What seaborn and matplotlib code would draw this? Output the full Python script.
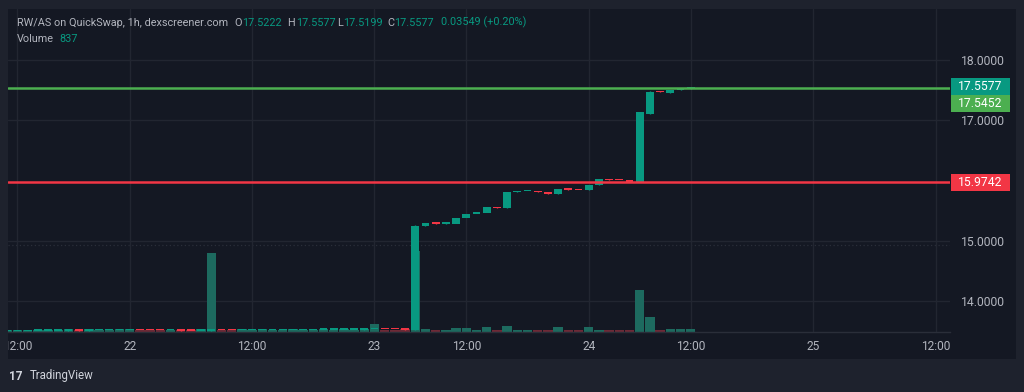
import matplotlib
matplotlib.use("Agg")
import matplotlib.pyplot as plt
import matplotlib.patches as mpatches
import matplotlib.transforms as mtransforms
import matplotlib.ticker as mticker
import pandas as pd
import seaborn as sns

# ---------------- data ----------------
bar_index = list(range(-1, 67))
opens = [13.499, 13.500, 13.501, 13.502, 13.503, 13.504, 13.505, 13.508, 13.506, 13.508,
         13.509, 13.510, 13.511, 13.513, 13.511, 13.509, 13.507, 13.508, 13.506, 13.504,
         13.506, 13.512, 13.510, 13.508, 13.509, 13.510, 13.512, 13.513, 13.514, 13.516,
         13.517, 13.518, 13.519, 13.520, 13.522, 13.523, 13.524, 13.528, 13.526, 13.524,
         13.522, 15.250, 15.290, 15.280, 15.275, 15.370, 15.440, 15.460, 15.560, 15.540,
         15.810, 15.825, 15.820, 15.810, 15.770, 15.860, 15.845, 15.835, 15.920, 16.030,
         16.010, 16.000, 15.980, 17.110, 17.480, 17.460, 17.500, 17.5222]
closes = [13.500, 13.501, 13.502, 13.503, 13.504, 13.505, 13.508, 13.506, 13.508, 13.509,
          13.510, 13.511, 13.513, 13.511, 13.509, 13.507, 13.508, 13.506, 13.504, 13.506,
          13.512, 13.510, 13.508, 13.509, 13.510, 13.512, 13.513, 13.514, 13.516, 13.517,
          13.518, 13.519, 13.520, 13.522, 13.523, 13.524, 13.528, 13.526, 13.524, 13.522,
          15.250, 15.290, 15.280, 15.285, 15.370, 15.440, 15.470, 15.560, 15.540, 15.810,
          15.825, 15.830, 15.810, 15.770, 15.860, 15.845, 15.835, 15.930, 16.030, 16.010,
          16.000, 15.980, 17.130, 17.470, 17.465, 17.500, 17.530, 17.5577]
highs = [13.500, 13.501, 13.502, 13.503, 13.504, 13.505, 13.508, 13.508, 13.508, 13.509,
         13.510, 13.511, 13.513, 13.513, 13.511, 13.509, 13.508, 13.508, 13.506, 13.506,
         13.512, 13.512, 13.510, 13.509, 13.510, 13.512, 13.513, 13.514, 13.516, 13.517,
         13.518, 13.519, 13.520, 13.522, 13.523, 13.524, 13.528, 13.528, 13.526, 13.524,
         15.260, 15.290, 15.290, 15.285, 15.370, 15.440, 15.470, 15.560, 15.560, 15.810,
         15.825, 15.830, 15.820, 15.810, 15.860, 15.860, 15.845, 15.930, 16.030, 16.030,
         16.010, 16.000, 17.130, 17.490, 17.480, 17.500, 17.530, 17.5577]
lows = [13.499, 13.500, 13.501, 13.502, 13.503, 13.504, 13.505, 13.506, 13.506, 13.508,
        13.509, 13.510, 13.511, 13.511, 13.509, 13.507, 13.507, 13.506, 13.504, 13.504,
        13.506, 13.510, 13.508, 13.508, 13.509, 13.510, 13.512, 13.513, 13.514, 13.516,
        13.517, 13.518, 13.519, 13.520, 13.522, 13.523, 13.524, 13.526, 13.524, 13.522,
        13.522, 15.250, 15.280, 15.275, 15.370, 15.440, 15.460, 15.560, 15.540, 15.540,
        15.810, 15.825, 15.810, 15.770, 15.770, 15.845, 15.835, 15.835, 15.920, 16.010,
        16.000, 15.980, 15.980, 17.110, 17.465, 17.460, 17.500, 17.5199]
volumes = [500, 430, 430, 430, 430, 430, 850, 430, 650, 430,
           430, 650, 850, 430, 430, 430, 430, 430, 430, 850,
           24400, 430, 430, 650, 430, 900, 430, 430, 850, 430,
           430, 650, 430, 850, 430, 650, 2300, 430, 430, 650,
           25000, 930, 400, 400, 1050, 1050, 400, 1360, 400, 1770,
           530, 400, 400, 400, 1360, 400, 400, 1460, 400, 400,
           400, 400, 12800, 4550, 400, 740, 740, 837]

tick_positions = [0, 11, 23, 35, 44, 56, 66, 78, 90]
tick_labels = ["12:00", "22", "12:00", "23", "12:00", "24", "12:00", "25", "12:00"]
price_ticks = [14, 15, 17, 18]
last_price = 17.5577
green_level = 17.5452
red_level = 15.9742
dotted_level = 14.93

title = "RW/AS on QuickSwap, 1h, dexscreener.com"
ohlc_labels = ["O", "H", "L", "C"]
ohlc_values = ["17.5222", "17.5577", "17.5199", "17.5577"]
change_text = "0.03549 (+0.20%)"
volume_text = "837"

# ---------------- style ----------------
UP = "#089981"
DOWN = "#f23645"
VOL_UP = "#1d6a5f"
VOL_DOWN = "#6d2a37"
PANE_BG = "#141823"
OUTER_BG = "#1e222d"
GRID = "#222631"
TEXT = "#b2b5be"
GREEN_LINE = "#4caf50"

sns.set_theme(style="dark")
plt.rcParams["font.family"] = ["Roboto", "DejaVu Sans"]

W, H = 1024, 392
fig = plt.figure(figsize=(W / 100, H / 100), dpi=100)
fig.patch.set_facecolor(OUTER_BG)

def fx(px):
    return px / W

def fy(py):
    return 1 - py / H

# dark widget background
bg_rect = mpatches.Rectangle((fx(8), fy(359)), fx(1016) - fx(8), fy(9) - fy(359),
                             transform=fig.transFigure, facecolor=PANE_BG,
                             edgecolor="none", zorder=-10)
fig.add_artist(bg_rect)

pane_l, pane_r, pane_t, pane_b = 8, 950, 9, 331.5
axv = fig.add_axes([fx(pane_l), fy(pane_b), fx(pane_r) - fx(pane_l), (pane_b - pane_t) / H])
axv.set_facecolor(PANE_BG)

# volume bars (seaborn)
direction = ["up" if c >= o else "down" for o, c in zip(opens, closes)]
vol_df = pd.DataFrame({"idx": bar_index, "volume": volumes, "dir": direction})
sns.barplot(data=vol_df, x="idx", y="volume", hue="dir",
            palette={"up": VOL_UP, "down": VOL_DOWN}, native_scale=True, dodge=False,
            width=0.93, saturation=1, errorbar=None, legend=False, linewidth=0, ax=axv)
axv.set_ylim(0, 100000)
axv.set_yticks([])
axv.set_ylabel("")
axv.set_xlabel("")

# price axes
axp = axv.twinx()
body_low = [min(o, c) for o, c in zip(opens, closes)]
body_h = [max(abs(c - o), 0.022) for o, c in zip(opens, closes)]
colors = [UP if d == "up" else DOWN for d in direction]
axp.vlines(bar_index, lows, highs, colors=colors, linewidth=1, zorder=3)
axp.bar(bar_index, body_h, bottom=body_low, width=0.76, color=colors, linewidth=0, zorder=4)

axp.set_ylim(13.49, 18.85)
axv.set_xlim(-0.93, 91.42)

# grid (drawn on the volume axes so it stays behind every bar)
price_on_v = mtransforms.blended_transform_factory(axv.transAxes, axp.transData)
for p in price_ticks:
    axv.plot([0, 1], [p, p], transform=price_on_v, color=GRID, linewidth=1, zorder=0)
axv.plot([0, 1], [dotted_level, dotted_level], transform=price_on_v, color="#2a2e39",
         linewidth=0.9, linestyle=(0, (1, 2)), zorder=0)
for t in tick_positions:
    axv.axvline(t, color=GRID, linewidth=1, zorder=0)

# horizontal levels
axp.axhline(green_level, color=GREEN_LINE, linewidth=1.8, zorder=5)
axp.axhline(red_level, color=DOWN, linewidth=1.8, zorder=5)

# ticks
axv.set_xticks(tick_positions, tick_labels)
axv.tick_params(axis="x", length=0, pad=6, labelsize=8.6, labelcolor=TEXT)
axp.set_yticks(price_ticks)
axp.yaxis.set_major_formatter(mticker.FormatStrFormatter("%.4f"))
axp.tick_params(axis="y", length=0, pad=8, labelsize=8.7, labelcolor=TEXT)

for sp in axv.spines.values():
    sp.set_visible(False)
for sp in axp.spines.values():
    sp.set_visible(False)
axv.spines["bottom"].set_visible(True)
axv.spines["bottom"].set_color("#2a2e39")
axv.spines["bottom"].set_linewidth(1)

clip = mtransforms.TransformedBbox(mtransforms.Bbox([[fx(8), 0], [fx(1016), 1]]), fig.transFigure)
for lab in axv.get_xticklabels():
    lab.set_clip_box(clip)
    lab.set_clip_on(True)

# price labels on the axis
blend = mtransforms.blended_transform_factory(axp.transAxes, axp.transData)
box_w = 59 / (pane_r - pane_l)
box_h = 17 / 60
x0 = 1.001
labels_boxes = [(last_price, last_price, UP),
                (last_price - box_h, green_level, GREEN_LINE),
                (red_level, red_level, DOWN)]
for ypos, val, col in labels_boxes:
    axp.add_patch(mpatches.Rectangle((x0, ypos - box_h / 2), box_w, box_h, transform=blend,
                                     facecolor=col, edgecolor="none", clip_on=False, zorder=6))
    axp.text(x0 + box_w / 2, ypos, f"{val:.4f}", transform=blend, ha="center", va="center",
             color="white", fontsize=8.7, clip_on=False, zorder=7)

# header legend
hy = 22.5
fs = 7.85
fig.text(fx(16.8), fy(hy), title, color=TEXT, fontsize=fs, va="center")
ox = [234.6, 287.5, 337.5, 387.5]
vx = [242.5, 295.7, 343.5, 394.5]
for lab, val, a, b in zip(ohlc_labels, ohlc_values, ox, vx):
    fig.text(fx(a), fy(hy), lab, color=TEXT, fontsize=fs, va="center")
    fig.text(fx(b), fy(hy), val, color=UP, fontsize=fs, va="center")
fig.text(fx(441), fy(hy), change_text, color=UP, fontsize=fs, va="center")
fig.text(fx(16.8), fy(39), "Volume", color=TEXT, fontsize=fs, va="center")
fig.text(fx(59), fy(39), volume_text, color=UP, fontsize=fs, va="center")

# footer
fig.text(fx(9), fy(376), "17", color="#d1d4dc", fontsize=8.5, fontweight="bold", va="center")
fig.text(fx(30), fy(376), "TradingView", color="#d1d4dc", fontsize=8.3, va="center")

fig.savefig("out.png", dpi=100, facecolor=fig.get_facecolor())
